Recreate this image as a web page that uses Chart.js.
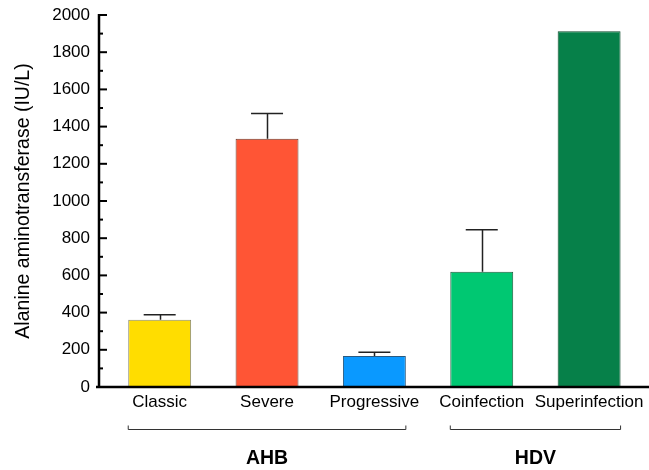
<!DOCTYPE html>
<html>
<head>
<meta charset="utf-8">
<script src="https://cdn.jsdelivr.net/npm/chart.js@4.4.1/dist/chart.umd.min.js"></script>
<style>
html,body{margin:0;padding:0;background:#fff;}
#wrap{width:649px;height:470px;}
</style>
</head>
<body>
<div id="wrap"><canvas id="c" width="649" height="470"></canvas></div>
<script>
const categories = ["Classic", "Severe", "Progressive", "Coinfection", "Superinfection"];
const altValues = [361, 1335, 167, 620, 1912];
const altErrors = [27, 135, 20, 225, 0];
const barColors = ["#FFDD00", "#FF5535", "#0A99FF", "#00C872", "#068049"];
const barBorders = ["#8a8a70", "#6a3a2a", "#2a5a80", "#1e5a3c", "#0e4a2c"];
const groups = [
  { label: "AHB", from: 0, to: 2 },
  { label: "HDV", from: 3, to: 4 }
];
const yTicks = { min: 0, max: 2000, major: 200, minor: 100 };
const FONT = "'Liberation Sans', Arial, Helvetica, sans-serif";

const axisPlugin = {
  id: 'axisPlugin',
  afterDatasetsDraw(chart) {
    const ctx = chart.ctx;
    const ys = chart.scales.y, xs = chart.scales.x;
    const ca = chart.chartArea;
    const axX = ca.left - 7;
    const meta = chart.getDatasetMeta(0);
    ctx.save();
    // error bars
    ctx.strokeStyle = '#222';
    ctx.lineWidth = 1.5;
    altValues.forEach((v, i) => {
      const e = altErrors[i];
      if (!e) return;
      const cx = xs.getPixelForValue(i);
      const y0 = ys.getPixelForValue(v);
      const y1 = ys.getPixelForValue(v + e);
      ctx.beginPath();
      ctx.moveTo(Math.round(cx) + 0.5, y0);
      ctx.lineTo(Math.round(cx) + 0.5, y1);
      ctx.moveTo(cx - 16, y1);
      ctx.lineTo(cx + 16, y1);
      ctx.stroke();
    });
    // y axis line
    ctx.strokeStyle = '#000';
    ctx.lineWidth = 2.5;
    ctx.beginPath();
    ctx.moveTo(axX, ys.getPixelForValue(yTicks.max) - 1);
    ctx.lineTo(axX, ys.getPixelForValue(yTicks.min));
    ctx.stroke();
    // inward ticks
    ctx.lineWidth = 2;
    for (let v = yTicks.min; v <= yTicks.max; v += yTicks.minor) {
      const py = ys.getPixelForValue(v);
      const len = (v % yTicks.major === 0) ? 8 : 4;
      ctx.beginPath();
      ctx.moveTo(axX, py);
      ctx.lineTo(axX + len, py);
      ctx.stroke();
    }
    // x axis line
    ctx.lineWidth = 2.5;
    const by = ys.getPixelForValue(yTicks.min);
    ctx.beginPath();
    ctx.moveTo(axX - 3, by);
    ctx.lineTo(chart.width, by);
    ctx.stroke();
    // group brackets and labels
    ctx.strokeStyle = '#333';
    ctx.lineWidth = 1;
    ctx.fillStyle = '#000';
    ctx.font = "bold 19.5px " + FONT;
    ctx.textAlign = 'center';
    ctx.textBaseline = 'middle';
    groups.forEach(g => {
      const a = meta.data[g.from], b = meta.data[g.to];
      const x0 = a.x - a.width / 2, x1 = b.x + b.width / 2;
      const yb = by + 42.5;
      ctx.beginPath();
      ctx.moveTo(x0, yb - 4);
      ctx.lineTo(x0, yb);
      ctx.lineTo(x1, yb);
      ctx.lineTo(x1, yb - 4);
      ctx.stroke();
      ctx.fillText(g.label, (xs.getPixelForValue(g.from) + xs.getPixelForValue(g.to)) / 2, by + 72);
    });
    ctx.restore();
  }
};

new Chart(document.getElementById('c'), {
  type: 'bar',
  data: {
    labels: categories,
    datasets: [{
      data: altValues,
      backgroundColor: barColors,
      borderColor: barBorders,
      borderWidth: 1,
      categoryPercentage: 1,
      barPercentage: 0.586
    }]
  },
  options: {
    responsive: false,
    animation: false,
    devicePixelRatio: 1,
    layout: { padding: { top: 15, right: 5.5, left: 0, bottom: 0 } },
    plugins: { legend: { display: false }, tooltip: { enabled: false } },
    scales: {
      x: {
        grid: { display: false, drawTicks: false },
        border: { display: false },
        ticks: { color: '#000', font: { family: FONT, size: 17 }, padding: 5, maxRotation: 0, autoSkip: false },
        afterFit(s) { s.height = 83; }
      },
      y: {
        min: yTicks.min, max: yTicks.max,
        grid: { display: true, drawOnChartArea: false, drawTicks: true, tickLength: 14, color: 'rgba(0,0,0,0)' },
        border: { display: false },
        ticks: { stepSize: yTicks.major, color: '#000', font: { family: FONT, size: 17 }, padding: 2,
                 callback: v => String(v) },
        title: { display: true, text: 'Alanine aminotransferase (IU/L)', color: '#000', font: { family: FONT, size: 19.5 }, padding: { top: 12, bottom: 0 } },
        afterFit(s) { s.width = 106; }
      }
    }
  },
  plugins: [axisPlugin]
});
</script>
</body>
</html>
